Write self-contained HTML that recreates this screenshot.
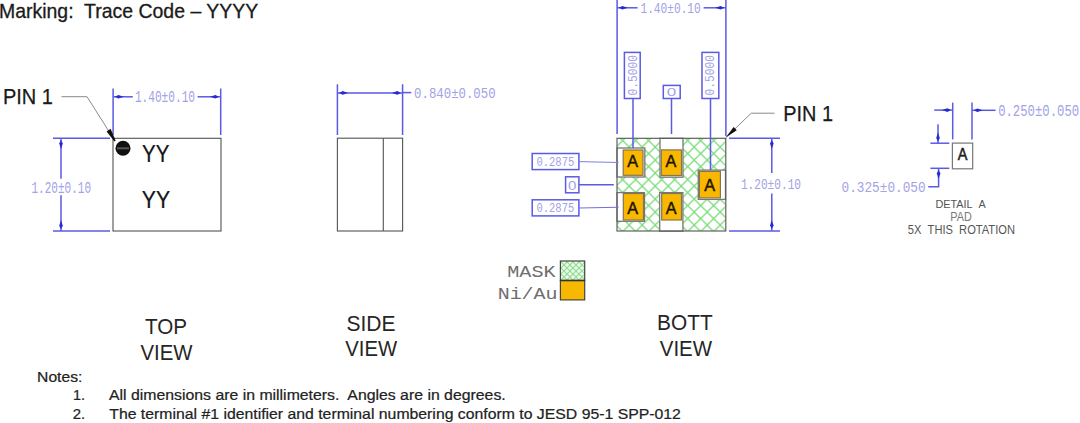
<!DOCTYPE html>
<html><head><meta charset="utf-8"><style>
html,body{margin:0;padding:0;background:#fff;width:1080px;height:423px;overflow:hidden}
svg{display:block}

</style></head><body>
<svg width="1080" height="423" viewBox="0 0 1080 423">
<text x="-1.08" y="18.28" font-family="&quot;Liberation Sans&quot;, sans-serif" font-size="19.62" fill="#1a1a1a" textLength="259.27" lengthAdjust="spacingAndGlyphs"  stroke="#1a1a1a" stroke-width="0.3">Marking:&#160; Trace Code – YYYY</text>
<rect x="113" y="138.3" width="108.00" height="92.70" stroke="#5a5a5a" fill="none" stroke-width="1.15"/>
<circle cx="123" cy="148.3" r="7.5" fill="#111"/>
<rect x="117" y="147.3" width="12" height="2" fill="#555"/>
<text x="141.99" y="162.28" font-family="&quot;Liberation Sans&quot;, sans-serif" font-size="23.26" fill="#151515" textLength="27.39" lengthAdjust="spacingAndGlyphs"  stroke="#151515" stroke-width="0.2">YY</text>
<text x="141.78" y="207.86" font-family="&quot;Liberation Sans&quot;, sans-serif" font-size="23.26" fill="#151515" textLength="28.39" lengthAdjust="spacingAndGlyphs"  stroke="#151515" stroke-width="0.2">YY</text>
<line x1="113.1" y1="88.5" x2="113.1" y2="135" stroke="#5a5ae4" stroke-width="1.5"/>
<line x1="220.7" y1="88.5" x2="220.7" y2="135" stroke="#5a5ae4" stroke-width="1.5"/>
<line x1="113.1" y1="96.8" x2="132.8" y2="96.8" stroke="#5a5ae4" stroke-width="1.5"/>
<polygon points="114.80,96.80 118.40,95.00 123.80,96.80 118.40,98.60" fill="#2a2ad0"/>
<line x1="197.6" y1="96.8" x2="220.7" y2="96.8" stroke="#5a5ae4" stroke-width="1.5"/>
<polygon points="219.00,96.80 215.40,98.60 210.00,96.80 215.40,95.00" fill="#2a2ad0"/>
<text x="134.89" y="102.00" font-family="&quot;Liberation Mono&quot;, sans-serif" font-size="15.78" fill="#a2a2e6" textLength="60.18" lengthAdjust="spacingAndGlyphs" >1.40±0.10</text>
<line x1="53" y1="138.3" x2="110" y2="138.3" stroke="#5a5ae4" stroke-width="1.5"/>
<line x1="53" y1="231" x2="110" y2="231" stroke="#5a5ae4" stroke-width="1.5"/>
<line x1="61" y1="138.3" x2="61" y2="178.7" stroke="#5a5ae4" stroke-width="1.5"/>
<polygon points="61.00,140.00 62.80,143.60 61.00,149.00 59.20,143.60" fill="#2a2ad0"/>
<line x1="61" y1="195.3" x2="61" y2="231" stroke="#5a5ae4" stroke-width="1.5"/>
<polygon points="61.00,229.30 59.20,225.70 61.00,220.30 62.80,225.70" fill="#2a2ad0"/>
<text x="31.39" y="192.72" font-family="&quot;Liberation Mono&quot;, sans-serif" font-size="16.54" fill="#a2a2e6" textLength="59.64" lengthAdjust="spacingAndGlyphs" >1.20±0.10</text>
<text x="2.92" y="104.04" font-family="&quot;Liberation Sans&quot;, sans-serif" font-size="21.51" fill="#1a1a1a" textLength="50.00" lengthAdjust="spacingAndGlyphs"  stroke="#1a1a1a" stroke-width="0.25">PIN 1</text>
<polyline points="61.5,96.7 87,96.7 115,141" stroke="#8a8a8a" fill="none" stroke-width="1"/>
<polygon points="106.6,131.4 110.6,128.8 115.6,140.6 114.4,141.6" fill="#111"/>
<rect x="337.4" y="138.2" width="65.20" height="92.80" stroke="#5a5a5a" fill="none" stroke-width="1.15"/>
<line x1="383.3" y1="138.2" x2="383.3" y2="231" stroke="#5a5a5a" stroke-width="1.15"/>
<line x1="337.4" y1="84.3" x2="337.4" y2="135" stroke="#5a5ae4" stroke-width="1.5"/>
<line x1="402.6" y1="84.3" x2="402.6" y2="135" stroke="#5a5ae4" stroke-width="1.5"/>
<line x1="337.4" y1="92.9" x2="402.6" y2="92.9" stroke="#5a5ae4" stroke-width="1.5"/>
<polygon points="339.10,92.90 342.70,91.10 348.10,92.90 342.70,94.70" fill="#2a2ad0"/>
<polygon points="400.90,92.90 397.30,94.70 391.90,92.90 397.30,91.10" fill="#2a2ad0"/>
<line x1="402.6" y1="92.6" x2="411.3" y2="92.6" stroke="#5a5ae4" stroke-width="1.5"/>
<text x="414.12" y="98.30" font-family="&quot;Liberation Mono&quot;, sans-serif" font-size="15.48" fill="#a2a2e6" textLength="81.45" lengthAdjust="spacingAndGlyphs" >0.840±0.050</text>
<defs><pattern id="hatch" patternUnits="userSpaceOnUse" x="5.2" y="4.1" width="13" height="13">
<path d="M-1,-1 L14,14 M-1,14 L14,-1" stroke="#78dc78" stroke-width="1.25" fill="none"/>
</pattern>
<pattern id="hatch2" patternUnits="userSpaceOnUse" x="561" y="262" width="6" height="6">
<rect width="6" height="6" fill="#eafaea"/><path d="M-1,-1 L7,7 M-1,7 L7,-1" stroke="#90dc90" stroke-width="1.1" fill="none"/>
</pattern></defs>
<rect x="617" y="138.3" width="108.80" height="92.70" stroke="none" fill="url(#hatch)" stroke-width="1.5"/>
<rect x="617" y="148" width="27.80" height="29.00" stroke="#777" fill="#fff" stroke-width="1.3"/>
<rect x="617" y="192.6" width="27.50" height="28.70" stroke="#777" fill="#fff" stroke-width="1.3"/>
<rect x="660" y="138.3" width="23.00" height="38.90" stroke="#777" fill="#fff" stroke-width="1.3"/>
<rect x="659.7" y="192.6" width="23.20" height="38.60" stroke="#777" fill="#fff" stroke-width="1.3"/>
<rect x="698.3" y="170.1" width="27.20" height="29.30" stroke="#777" fill="#fff" stroke-width="1.3"/>
<rect x="617" y="138.3" width="108.80" height="92.70" stroke="#5a5a5a" fill="none" stroke-width="1.15"/>
<rect x="623.2" y="150" width="19.80" height="25.30" stroke="#857550" fill="#f8b800" stroke-width="1.2"/>
<rect x="623.3" y="193.5" width="20.20" height="26.50" stroke="#857550" fill="#f8b800" stroke-width="1.2"/>
<rect x="661.3" y="149.9" width="20.20" height="25.60" stroke="#857550" fill="#f8b800" stroke-width="1.2"/>
<rect x="661.7" y="193.5" width="19.80" height="26.50" stroke="#857550" fill="#f8b800" stroke-width="1.2"/>
<rect x="699.4" y="171.4" width="21.00" height="26.50" stroke="#857550" fill="#f8b800" stroke-width="1.2"/>
<text x="627.30" y="167.30" font-family="&quot;Liberation Sans&quot;, sans-serif" font-size="16.13" fill="#1e1400" stroke="#1e1400" stroke-width="0.45" textLength="10.8" lengthAdjust="spacingAndGlyphs">A</text>
<text x="627.30" y="214.10" font-family="&quot;Liberation Sans&quot;, sans-serif" font-size="15.70" fill="#1e1400" stroke="#1e1400" stroke-width="0.45" textLength="10.8" lengthAdjust="spacingAndGlyphs">A</text>
<text x="665.60" y="167.30" font-family="&quot;Liberation Sans&quot;, sans-serif" font-size="16.13" fill="#1e1400" stroke="#1e1400" stroke-width="0.45" textLength="10.8" lengthAdjust="spacingAndGlyphs">A</text>
<text x="665.80" y="214.10" font-family="&quot;Liberation Sans&quot;, sans-serif" font-size="15.70" fill="#1e1400" stroke="#1e1400" stroke-width="0.45" textLength="10.8" lengthAdjust="spacingAndGlyphs">A</text>
<text x="704.30" y="190.50" font-family="&quot;Liberation Sans&quot;, sans-serif" font-size="15.99" fill="#1e1400" stroke="#1e1400" stroke-width="0.45" textLength="10.8" lengthAdjust="spacingAndGlyphs">A</text>
<line x1="617.1" y1="0" x2="617.1" y2="134" stroke="#5a5ae4" stroke-width="1.5"/>
<line x1="725.9" y1="0" x2="725.9" y2="136" stroke="#5a5ae4" stroke-width="1.5"/>
<line x1="617.1" y1="7.8" x2="637.6" y2="7.8" stroke="#5a5ae4" stroke-width="1.5"/>
<polygon points="618.80,7.80 622.40,6.00 627.80,7.80 622.40,9.60" fill="#2a2ad0"/>
<line x1="703.6" y1="7.8" x2="725.9" y2="7.8" stroke="#5a5ae4" stroke-width="1.5"/>
<polygon points="724.20,7.80 720.60,9.60 715.20,7.80 720.60,6.00" fill="#2a2ad0"/>
<text x="640.43" y="13.00" font-family="&quot;Liberation Mono&quot;, sans-serif" font-size="15.02" fill="#a2a2e6" textLength="60.37" lengthAdjust="spacingAndGlyphs" >1.40±0.10</text>
<rect x="624.4" y="52.4" width="15.80" height="46.10" stroke="#5a5ae4" fill="none" stroke-width="1.5"/>
<rect x="663.3" y="85.4" width="16.90" height="13.10" stroke="#5a5ae4" fill="none" stroke-width="1.5"/>
<rect x="702" y="52.4" width="16.80" height="46.10" stroke="#5a5ae4" fill="none" stroke-width="1.5"/>
<line x1="633" y1="98.5" x2="633" y2="148" stroke="#5a5ae4" stroke-width="1.5"/>
<line x1="671.5" y1="98.5" x2="671.5" y2="134" stroke="#5a5ae4" stroke-width="1.5"/>
<line x1="710.5" y1="98.5" x2="710.5" y2="170" stroke="#5a5ae4" stroke-width="1.5"/>
<text transform="translate(636.6,95.6) rotate(-90)" font-family="&quot;Liberation Mono&quot;, monospace" font-size="12.9" fill="#a2a2e6" textLength="40.5" lengthAdjust="spacingAndGlyphs">0.5000</text>
<text transform="translate(714.2,95.6) rotate(-90)" font-family="&quot;Liberation Mono&quot;, monospace" font-size="12.9" fill="#a2a2e6" textLength="40.5" lengthAdjust="spacingAndGlyphs">0.5000</text>
<text x="666.74" y="96.00" font-family="&quot;Liberation Sans&quot;, sans-serif" font-size="11.63" fill="#a2a2e6" textLength="9.42" lengthAdjust="spacingAndGlyphs" >0</text>
<rect x="532.2" y="153.5" width="46.70" height="16.10" stroke="#5a5ae4" fill="none" stroke-width="1.5"/>
<line x1="578.9" y1="161.6" x2="618.6" y2="162.5" stroke="#8080e0" stroke-width="1"/>
<text x="536.49" y="166.00" font-family="&quot;Liberation Mono&quot;, sans-serif" font-size="13.66" fill="#a2a2e6" textLength="37.77" lengthAdjust="spacingAndGlyphs" >0.2875</text>
<rect x="565.6" y="176.8" width="13.30" height="16.00" stroke="#5a5ae4" fill="none" stroke-width="1.5"/>
<line x1="578.9" y1="184.7" x2="613.8" y2="184.7" stroke="#5a5ae4" stroke-width="1.5"/>
<text x="567.95" y="189.50" font-family="&quot;Liberation Sans&quot;, sans-serif" font-size="13.08" fill="#a2a2e6" textLength="8.42" lengthAdjust="spacingAndGlyphs" >0</text>
<rect x="532.2" y="199.8" width="46.70" height="16.10" stroke="#5a5ae4" fill="none" stroke-width="1.5"/>
<line x1="578.9" y1="208" x2="618.6" y2="207.2" stroke="#7070e0" stroke-width="1.1"/>
<text x="536.49" y="212.00" font-family="&quot;Liberation Mono&quot;, sans-serif" font-size="13.66" fill="#a2a2e6" textLength="37.77" lengthAdjust="spacingAndGlyphs" >0.2875</text>
<text x="783.33" y="121.10" font-family="&quot;Liberation Sans&quot;, sans-serif" font-size="21.66" fill="#1a1a1a" textLength="49.76" lengthAdjust="spacingAndGlyphs"  stroke="#1a1a1a" stroke-width="0.25">PIN 1</text>
<polyline points="774.6,113.2 751.2,113.2 725.8,137.6" stroke="#8a8a8a" fill="none" stroke-width="1"/>
<polygon points="725.80,137.60 733.58,126.94 736.77,130.25" fill="#111"/>
<line x1="729" y1="138.3" x2="780" y2="138.3" stroke="#5a5ae4" stroke-width="1.5"/>
<line x1="729" y1="231.1" x2="780" y2="231.1" stroke="#5a5ae4" stroke-width="1.5"/>
<line x1="771.8" y1="138.3" x2="771.8" y2="172.9" stroke="#5a5ae4" stroke-width="1.5"/>
<polygon points="771.80,140.00 773.60,143.60 771.80,149.00 770.00,143.60" fill="#2a2ad0"/>
<line x1="771.8" y1="193.6" x2="771.8" y2="230.8" stroke="#5a5ae4" stroke-width="1.5"/>
<polygon points="771.80,229.10 770.00,225.50 771.80,220.10 773.60,225.50" fill="#2a2ad0"/>
<text x="740.88" y="188.72" font-family="&quot;Liberation Mono&quot;, sans-serif" font-size="14.87" fill="#a2a2e6" textLength="60.16" lengthAdjust="spacingAndGlyphs" >1.20±0.10</text>
<rect x="952.4" y="143.1" width="20.30" height="25.70" stroke="#777" fill="none" stroke-width="1.2"/>
<text x="957.78" y="159.80" font-family="&quot;Liberation Sans&quot;, sans-serif" font-size="16.13" fill="#1a1a1a" textLength="9.64" lengthAdjust="spacingAndGlyphs"  stroke="#1a1a1a" stroke-width="0.5">A</text>
<line x1="952.7" y1="102.6" x2="952.7" y2="139.4" stroke="#5a5ae4" stroke-width="1.5"/>
<line x1="972" y1="102.6" x2="972" y2="139.4" stroke="#5a5ae4" stroke-width="1.5"/>
<line x1="934.2" y1="110.1" x2="952.7" y2="110.1" stroke="#5a5ae4" stroke-width="1.5"/>
<polygon points="951.00,110.10 947.40,111.90 942.00,110.10 947.40,108.30" fill="#2a2ad0"/>
<line x1="972" y1="110.3" x2="995.6" y2="110.3" stroke="#5a5ae4" stroke-width="1.5"/>
<polygon points="973.70,110.30 977.30,108.50 982.70,110.30 977.30,112.10" fill="#2a2ad0"/>
<text x="998.15" y="115.50" font-family="&quot;Liberation Mono&quot;, sans-serif" font-size="15.93" fill="#a2a2e6" textLength="80.98" lengthAdjust="spacingAndGlyphs" >0.250±0.050</text>
<line x1="930.4" y1="143.2" x2="949.3" y2="143.2" stroke="#5a5ae4" stroke-width="1.5"/>
<line x1="930.4" y1="168.3" x2="949.3" y2="168.3" stroke="#5a5ae4" stroke-width="1.5"/>
<line x1="938" y1="124.3" x2="938" y2="143.2" stroke="#5a5ae4" stroke-width="1.5"/>
<polygon points="938.00,141.50 936.20,137.90 938.00,132.50 939.80,137.90" fill="#2a2ad0"/>
<polyline points="938.6,168.3 938.6,186.7 928.3,186.7" stroke="#5a5ae4" fill="none" stroke-width="1.5"/>
<polygon points="938.60,170.00 940.40,173.60 938.60,179.00 936.80,173.60" fill="#2a2ad0"/>
<text x="841.53" y="191.86" font-family="&quot;Liberation Mono&quot;, sans-serif" font-size="15.17" fill="#a2a2e6" textLength="84.11" lengthAdjust="spacingAndGlyphs" >0.325±0.050</text>
<text x="935.44" y="207.80" font-family="&quot;Liberation Sans&quot;, sans-serif" font-size="10.76" fill="#555" textLength="50.37" lengthAdjust="spacingAndGlyphs" >DETAIL&#160;&#160;A</text>
<text x="950.26" y="221.20" font-family="&quot;Liberation Sans&quot;, sans-serif" font-size="11.92" fill="#777" textLength="21.47" lengthAdjust="spacingAndGlyphs" >PAD</text>
<text x="907.80" y="234.20" font-family="&quot;Liberation Sans&quot;, sans-serif" font-size="11.92" fill="#555" textLength="107.13" lengthAdjust="spacingAndGlyphs" >5X&#160;&#160;THIS&#160;&#160;ROTATION</text>
<text x="507.29" y="277.20" font-family="&quot;Liberation Mono&quot;, sans-serif" font-size="17.00" fill="#6e6e6e" textLength="48.25" lengthAdjust="spacingAndGlyphs" >MASK</text>
<text x="497.67" y="298.50" font-family="&quot;Liberation Mono&quot;, sans-serif" font-size="17.00" fill="#6e6e6e" textLength="59.92" lengthAdjust="spacingAndGlyphs" >Ni/Au</text>
<rect x="560.4" y="261" width="24.30" height="19.50" stroke="#444" fill="url(#hatch2)" stroke-width="1.2"/>
<rect x="560.4" y="280.5" width="24.30" height="19.40" stroke="#444" fill="#f8b800" stroke-width="1.2"/>
<line x1="560.4" y1="280.5" x2="584.7" y2="280.5" stroke="#333" stroke-width="1.5"/>
<text x="145.00" y="334.14" font-family="&quot;Liberation Sans&quot;, sans-serif" font-size="22.53" fill="#262626" textLength="42.04" lengthAdjust="spacingAndGlyphs" >TOP</text>
<text x="140.50" y="360.10" font-family="&quot;Liberation Sans&quot;, sans-serif" font-size="21.95" fill="#262626" textLength="52.01" lengthAdjust="spacingAndGlyphs" >VIEW</text>
<text x="346.40" y="330.50" font-family="&quot;Liberation Sans&quot;, sans-serif" font-size="22.09" fill="#262626" textLength="48.99" lengthAdjust="spacingAndGlyphs" >SIDE</text>
<text x="345.30" y="356.14" font-family="&quot;Liberation Sans&quot;, sans-serif" font-size="22.09" fill="#262626" textLength="51.83" lengthAdjust="spacingAndGlyphs" >VIEW</text>
<text x="657.12" y="330.14" font-family="&quot;Liberation Sans&quot;, sans-serif" font-size="21.80" fill="#262626" textLength="55.63" lengthAdjust="spacingAndGlyphs" >BOTT</text>
<text x="659.79" y="356.14" font-family="&quot;Liberation Sans&quot;, sans-serif" font-size="21.95" fill="#262626" textLength="52.28" lengthAdjust="spacingAndGlyphs" >VIEW</text>
<text x="37.12" y="382.00" font-family="&quot;Liberation Sans&quot;, sans-serif" font-size="14.83" fill="#222" textLength="45.19" lengthAdjust="spacingAndGlyphs"  stroke="#222" stroke-width="0.22">Notes:</text>
<text x="72.97" y="400.00" font-family="&quot;Liberation Sans&quot;, sans-serif" font-size="14.68" fill="#222" textLength="12.06" lengthAdjust="spacingAndGlyphs"  stroke="#222" stroke-width="0.22">1.</text>
<text x="108.95" y="400.00" font-family="&quot;Liberation Sans&quot;, sans-serif" font-size="14.68" fill="#222" textLength="396.78" lengthAdjust="spacingAndGlyphs"  stroke="#222" stroke-width="0.22">All dimensions are in millimeters.&#160; Angles are in degrees.</text>
<text x="72.76" y="418.80" font-family="&quot;Liberation Sans&quot;, sans-serif" font-size="15.41" fill="#222" textLength="12.44" lengthAdjust="spacingAndGlyphs"  stroke="#222" stroke-width="0.22">2.</text>
<text x="109.24" y="418.80" font-family="&quot;Liberation Sans&quot;, sans-serif" font-size="15.41" fill="#222" textLength="571.63" lengthAdjust="spacingAndGlyphs"  stroke="#222" stroke-width="0.22">The terminal #1 identifier and terminal numbering conform to JESD 95-1 SPP-012</text>
</svg>
</body></html>
